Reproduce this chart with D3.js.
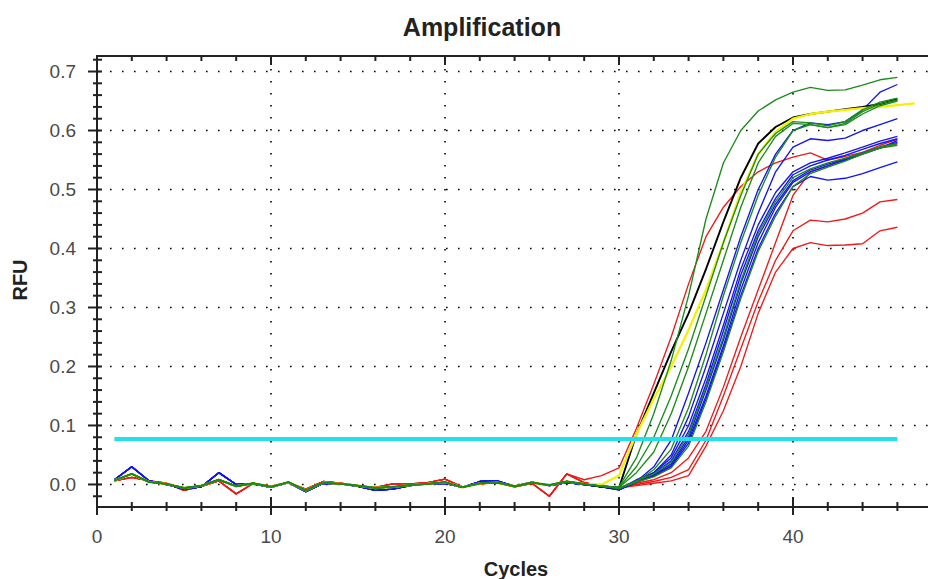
<!DOCTYPE html>
<html>
<head>
<meta charset="utf-8">
<script src="https://d3js.org/d3.v7.min.js"></script>
<style>
    body { margin: 0; background: #fff; }
    svg { display: block; font-family: "Liberation Sans", Arial, sans-serif; }
    .tick-label { font-size: 19px; fill: #4a4a4a; }
    .title { font-size: 25px; font-weight: bold; fill: #222; }
    .axis-title { font-size: 20px; font-weight: bold; fill: #222; }
    .grid line { stroke: #000; stroke-width: 1.6; stroke-dasharray: 1.6 10.4; }
    .axis-line, .tick { stroke: #222; }
    .trace { fill: none; stroke-linejoin: round; }
</style>
</head>
<body>
<svg width="928" height="579"></svg>
<script>
// cycle numbers
var cycles = [1, 2, 3, 4, 5, 6, 7, 8, 9, 10, 11, 12, 13, 14, 15, 16, 17, 18, 19, 20,
    21, 22, 23, 24, 25, 26, 27, 28, 29, 30, 31, 32, 33, 34, 35, 36, 37, 38, 39, 40,
    41, 42, 43, 44, 45, 46, 47];

// baseline RFU, cycles 1-27, one per dye colour
var baseRed = [0.006, 0.012, 0.006, 0.002, -0.01, -0.003, 0.006, -0.016, 0.002, -0.003,
    0.003, -0.008, 0.005, 0.002, -0.002, -0.005, 0.001, 0.001, 0.003, 0.009,
    -0.004, 0.001, 0.003, -0.004, 0.002, -0.02, 0.018];
var baseBlue = [0.008, 0.03, 0.006, 0.0, -0.008, -0.004, 0.02, 0.0, 0.001, -0.005,
    0.003, -0.012, 0.002, 0.001, -0.003, -0.01, -0.008, -0.002, 0.001, 0.002,
    -0.005, 0.005, 0.006, -0.003, 0.004, -0.002, 0.003];
var baseGreen = [0.007, 0.018, 0.004, 0.001, -0.006, -0.002, 0.008, -0.003, 0.002, -0.004,
    0.004, -0.01, 0.003, 0.001, -0.002, -0.006, -0.004, -0.001, 0.001, 0.004,
    -0.005, 0.002, 0.003, -0.003, 0.003, -0.001, 0.005];

// RFU from cycle 28 on, one array per well
var red1 = [0.008, 0.015, 0.028, 0.095, 0.17, 0.25, 0.34, 0.42, 0.47, 0.505, 0.53, 0.545, 0.555, 0.562, 0.55, 0.556, 0.563, 0.57, 0.578];
var red2 = [0.003, -0.002, -0.006, 0.002, 0.008, 0.02, 0.045, 0.09, 0.165, 0.25, 0.33, 0.41, 0.49, 0.53, 0.54, 0.552, 0.563, 0.575, 0.585];
var red3 = [0.003, -0.002, -0.006, 0.0, 0.005, 0.012, 0.025, 0.075, 0.15, 0.23, 0.31, 0.38, 0.43, 0.448, 0.445, 0.45, 0.46, 0.479, 0.483];
var red4 = [0.003, -0.002, -0.006, -0.002, 0.002, 0.006, 0.015, 0.065, 0.125, 0.2, 0.29, 0.36, 0.40, 0.41, 0.405, 0.406, 0.408, 0.43, 0.436];
var blue1 = [0.0, -0.004, -0.008, 0.005, 0.03, 0.075, 0.155, 0.24, 0.33, 0.42, 0.5, 0.56, 0.6, 0.613, 0.61, 0.615, 0.635, 0.665, 0.678];
var blue2 = [0.0, -0.004, -0.008, 0.004, 0.02, 0.05, 0.115, 0.2, 0.29, 0.38, 0.46, 0.53, 0.572, 0.586, 0.583, 0.587, 0.6, 0.61, 0.62];
var blue3 = [0.0, -0.004, -0.009, 0.004, 0.014, 0.03, 0.07, 0.145, 0.23, 0.32, 0.4, 0.46, 0.505, 0.522, 0.516, 0.519, 0.527, 0.537, 0.547];
var blue4 = [0.0, -0.004, -0.008, 0.008, 0.02, 0.045, 0.1, 0.18, 0.27, 0.365, 0.44, 0.495, 0.53, 0.545, 0.553, 0.562, 0.572, 0.582, 0.59];
var blue5 = [0.0, -0.004, -0.008, 0.006, 0.018, 0.04, 0.09, 0.17, 0.26, 0.355, 0.43, 0.485, 0.525, 0.54, 0.55, 0.558, 0.568, 0.578, 0.586];
var blue6 = [0.0, -0.004, -0.009, 0.005, 0.016, 0.035, 0.08, 0.16, 0.245, 0.34, 0.42, 0.475, 0.515, 0.533, 0.543, 0.552, 0.562, 0.572, 0.58];
var blue7 = [0.0, -0.004, -0.009, 0.004, 0.015, 0.032, 0.075, 0.15, 0.235, 0.33, 0.41, 0.47, 0.512, 0.53, 0.54, 0.55, 0.56, 0.57, 0.583];
var green1 = [0.001, -0.003, -0.004, 0.045, 0.12, 0.21, 0.32, 0.45, 0.545, 0.6, 0.633, 0.652, 0.665, 0.673, 0.668, 0.669, 0.677, 0.686, 0.69];
var green2 = [0.001, -0.003, -0.005, 0.03, 0.08, 0.15, 0.23, 0.32, 0.41, 0.49, 0.56, 0.595, 0.615, 0.613, 0.608, 0.615, 0.635, 0.648, 0.655];
var green3 = [0.001, -0.003, -0.005, 0.02, 0.055, 0.12, 0.2, 0.29, 0.38, 0.47, 0.545, 0.59, 0.612, 0.61, 0.605, 0.612, 0.632, 0.645, 0.652];
var green4 = [0.0, -0.003, -0.006, 0.005, 0.025, 0.06, 0.13, 0.22, 0.32, 0.41, 0.49, 0.555, 0.6, 0.61, 0.605, 0.61, 0.628, 0.642, 0.65];
var green5 = [0.001, -0.003, -0.006, 0.006, 0.018, 0.038, 0.085, 0.165, 0.25, 0.345, 0.425, 0.48, 0.52, 0.535, 0.545, 0.553, 0.562, 0.572, 0.578];
var green6 = [0.001, -0.003, -0.007, 0.004, 0.013, 0.028, 0.065, 0.14, 0.225, 0.315, 0.395, 0.455, 0.505, 0.527, 0.538, 0.548, 0.56, 0.57, 0.575];
var black1 = [0.001, -0.004, -0.006, 0.085, 0.155, 0.225, 0.29, 0.365, 0.445, 0.52, 0.578, 0.606, 0.622, 0.628, 0.632, 0.636, 0.64, 0.645, 0.653];
var yellow1 = [0.001, 0.0, 0.015, 0.085, 0.145, 0.2, 0.262, 0.33, 0.41, 0.495, 0.56, 0.598, 0.62, 0.628, 0.632, 0.635, 0.638, 0.64, 0.643, 0.646];

var threshold = 0.077;
var thresholdCycles = [1, 46];

var xTicks = [0, 10, 20, 30, 40];
var yTicks = [0.0, 0.1, 0.2, 0.3, 0.4, 0.5, 0.6, 0.7];

var colors = { red: "#f01818", blue: "#1414f0", green: "#1a8c1a", black: "#000", yellow: "#f2f200" };

// drawing order: reds, blues, black, yellow, greens on top
var wells = [
    { base: baseRed, tail: red1, dye: "red" },
    { base: baseRed, tail: red2, dye: "red" },
    { base: baseRed, tail: red3, dye: "red" },
    { base: baseRed, tail: red4, dye: "red" },
    { base: baseBlue, tail: blue1, dye: "blue" },
    { base: baseBlue, tail: blue2, dye: "blue" },
    { base: baseBlue, tail: blue3, dye: "blue" },
    { base: baseBlue, tail: blue4, dye: "blue" },
    { base: baseBlue, tail: blue5, dye: "blue" },
    { base: baseBlue, tail: blue6, dye: "blue" },
    { base: baseBlue, tail: blue7, dye: "blue" },
    { base: baseGreen, tail: black1, dye: "black" },
    { base: baseGreen, tail: yellow1, dye: "yellow" },
    { base: baseGreen, tail: green1, dye: "green" },
    { base: baseGreen, tail: green2, dye: "green" },
    { base: baseGreen, tail: green3, dye: "green" },
    { base: baseGreen, tail: green4, dye: "green" },
    { base: baseGreen, tail: green5, dye: "green" },
    { base: baseGreen, tail: green6, dye: "green" }
];

var svg = d3.select("svg"),
    plotL = 97, plotR = 928, plotT = 56, plotB = 507;

var x = d3.scaleLinear().domain([0, 47.76]).range([plotL, plotR]);
var y = d3.scaleLinear().domain([-0.0382, 0.7263]).range([plotB, plotT]);

svg.append("defs").append("clipPath").attr("id", "plot")
    .append("rect").attr("x", plotL).attr("y", plotT).attr("width", plotR - plotL).attr("height", plotB - plotT);

// dotted grid
var grid = svg.append("g").attr("class", "grid");
grid.selectAll(".gy").data(yTicks).enter().append("line")
    .attr("x1", plotL + 1).attr("x2", plotR)
    .attr("y1", function(d) { return y(d); }).attr("y2", function(d) { return y(d); });
grid.selectAll(".gx").data(xTicks.slice(1)).enter().append("line")
    .attr("y1", plotT + 1).attr("y2", plotB)
    .attr("x1", function(d) { return x(d); }).attr("x2", function(d) { return x(d); });

// traces
var line = d3.line()
    .x(function(d) { return x(d[0]); })
    .y(function(d) { return y(d[1]); });

var traces = svg.append("g").attr("clip-path", "url(#plot)");
wells.forEach(function(w) {
    var pts = w.base.map(function(v, i) { return [cycles[i], v]; })
        .concat(w.tail.map(function(v, i) { return [cycles[w.base.length + i], v]; }));
    traces.append("path")
        .attr("class", "trace")
        .attr("d", line(pts))
        .attr("stroke", colors[w.dye])
        .attr("stroke-width", w.dye == "yellow" ? 2.3 : (w.dye == "black" ? 1.9 : 1.35));
});

// threshold
traces.append("line")
    .attr("x1", x(thresholdCycles[0])).attr("x2", x(thresholdCycles[1]))
    .attr("y1", y(threshold)).attr("y2", y(threshold))
    .attr("stroke", "#22e0ee").attr("stroke-width", 4);

// frame
var frame = svg.append("g");
frame.append("line").attr("class", "axis-line").attr("x1", plotL).attr("x2", plotR).attr("y1", plotT).attr("y2", plotT).attr("stroke-width", 2);
frame.append("line").attr("class", "axis-line").attr("x1", plotL).attr("x2", plotR).attr("y1", plotB).attr("y2", plotB).attr("stroke-width", 2);
frame.append("line").attr("class", "axis-line").attr("x1", plotL).attr("x2", plotL).attr("y1", plotT - 1).attr("y2", plotB + 1).attr("stroke-width", 2);

// ticks
var xMinor = d3.range(0, 24).map(function(i) { return i * 2; });
var yMinor = d3.range(-1, 37).map(function(i) { return i * 0.02; });
function isMajorX(d) { return d % 10 == 0; }
function isMajorY(d) { return Math.abs(d * 10 - Math.round(d * 10)) < 1e-6; }

frame.selectAll(".xb").data(xMinor).enter().append("line").attr("class", "tick")
    .attr("stroke-width", 2)
    .attr("x1", function(d) { return x(d); }).attr("x2", function(d) { return x(d); })
    .attr("y1", function(d) { return plotB - (isMajorX(d) ? 10 : 5); })
    .attr("y2", function(d) { return plotB + (isMajorX(d) ? 8 : 4); });
frame.selectAll(".xt").data(xMinor).enter().append("line").attr("class", "tick")
    .attr("stroke-width", 2)
    .attr("x1", function(d) { return x(d); }).attr("x2", function(d) { return x(d); })
    .attr("y1", plotT).attr("y2", function(d) { return plotT + (isMajorX(d) ? 9 : 5); });
frame.selectAll(".yl").data(yMinor).enter().append("line").attr("class", "tick")
    .attr("stroke-width", 2)
    .attr("y1", function(d) { return y(d); }).attr("y2", function(d) { return y(d); })
    .attr("x1", function(d) { return plotL - (isMajorY(d) ? 9 : 4); })
    .attr("x2", plotL + 5);

// tick labels
svg.selectAll(".xl").data(xTicks).enter().append("text").attr("class", "tick-label")
    .attr("x", function(d) { return x(d); }).attr("y", 543)
    .attr("text-anchor", "middle").text(function(d) { return d; });
svg.selectAll(".ylab").data(yTicks).enter().append("text").attr("class", "tick-label")
    .attr("x", 76).attr("y", function(d) { return y(d); }).attr("dy", "0.36em")
    .attr("text-anchor", "end").text(function(d) { return d.toFixed(1); });

// titles
svg.append("text").attr("class", "title").attr("x", 482).attr("y", 35.5)
    .attr("text-anchor", "middle").text("Amplification");
svg.append("text").attr("class", "axis-title").attr("x", 516).attr("y", 576)
    .attr("text-anchor", "middle").text("Cycles");
svg.append("text").attr("class", "axis-title")
    .attr("transform", "translate(27,280) rotate(-90)")
    .attr("text-anchor", "middle").text("RFU");
</script>
</body>
</html>
